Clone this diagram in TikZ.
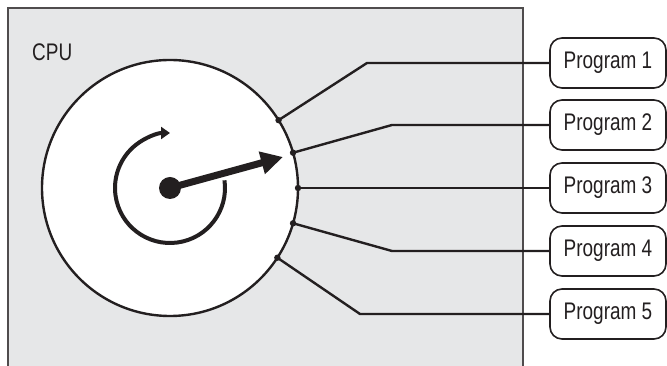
\documentclass[tikz,border=0pt]{standalone}
\usepackage{fontspec}
\setmainfont{Liberation Sans}[FakeStretch=0.79]
\usetikzlibrary{positioning,arrows.meta}
\definecolor{panel}{HTML}{E6E7E8}
\definecolor{ink}{HTML}{231F20}
\tikzset{
  prog/.style={draw=ink, line width=1.6pt, fill=white, rounded corners=12pt,
    minimum width=116pt, minimum height=50pt, inner sep=0pt, text=ink},
  link/.style={draw=ink, line width=2.4pt},
  pin/.style={fill=ink},
  pointer/.style={draw=ink, line width=7pt, -{Triangle[length=22pt,width=22pt]}},
  spin/.style={draw=ink, line width=4pt, -{Triangle[length=9pt,width=12pt]}}
}
\begin{document}
\begin{tikzpicture}[x=1pt, y=1pt, font=\fontsize{24}{27}\selectfont]
\useasboundingbox (0,0) rectangle (667,366);
\clip (0,0) rectangle (667,366);
% processor panel, open at the bottom edge
\draw[fill=panel, draw=ink!80, line width=1.4pt] (8,-10) rectangle (523,358);
\node[anchor=west, text=ink, inner sep=0pt] (cpu) at (32,314) {CPU};
% time-slice wheel
\node[circle, draw=ink, fill=white, line width=2.4pt, minimum size=256pt,
  inner sep=0pt, outer sep=0pt] (wheel) at (170,178) {};
\node[circle, fill=ink, minimum size=22pt, inner sep=0pt] (hub) at (170,178) {};
\coordinate (tip) at (283,209);
\draw[spin] ([shift={(8:55)}]hub.center) arc[start angle=8, end angle=-270, radius=55];
\draw[pointer] (hub.center) -- (tip);
% programs
\node[prog] (p1) at (608,303) {Program 1};
\node[prog] (p2) at (608,241) {Program 2};
\node[prog] (p3) at (608,178) {Program 3};
\node[prog] (p4) at (608,115) {Program 4};
\node[prog] (p5) at (608,52) {Program 5};
% connectors from the wheel rim
\draw[link] (wheel.32) -- (367,303) -- (p1.west);
\draw[link] (wheel.16) -- (392,241) -- (p2.west);
\draw[link] (wheel.0) -- (p3.west);
\draw[link] (wheel.-16) -- (392,115) -- (p4.west);
\draw[link] (wheel.-33) -- (360,52) -- (p5.west);
\fill[pin] (wheel.32) circle (3.2);
\fill[pin] (wheel.16) circle (3.2);
\fill[pin] (wheel.0) circle (3.2);
\fill[pin] (wheel.-16) circle (3.2);
\fill[pin] (wheel.-33) circle (3.2);
\end{tikzpicture}
\end{document}
